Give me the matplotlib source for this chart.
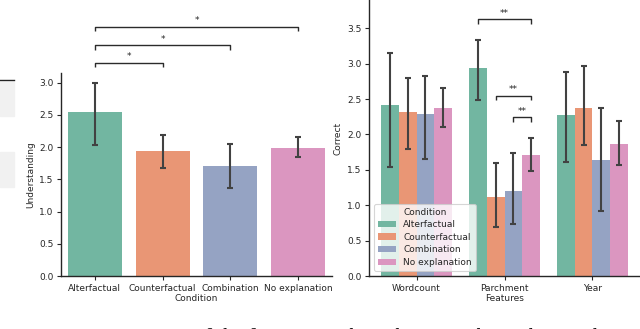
import matplotlib
matplotlib.use("Agg")
import matplotlib.pyplot as plt
import seaborn as sns
from matplotlib.patches import Rectangle, Patch
from matplotlib.lines import Line2D

# ---------------- data ----------------
conditions = ["Alterfactual", "Counterfactual", "Combination", "No explanation"]
understanding_mean = [2.54, 1.94, 1.71, 1.99]
understanding_low = [2.03, 1.67, 1.37, 1.84]
understanding_high = [2.99, 2.19, 2.05, 2.15]

features = ["Wordcount", "Parchment", "Year"]
alt_mean = [2.41, 2.94, 2.27]
alt_low = [1.54, 2.48, 1.61]
alt_high = [3.15, 3.34, 2.88]
cf_mean = [2.32, 1.11, 2.38]
cf_low = [1.80, 0.69, 1.85]
cf_high = [2.80, 1.59, 2.97]
comb_mean = [2.29, 1.20, 1.64]
comb_low = [1.65, 0.73, 0.92]
comb_high = [2.83, 1.74, 2.38]
none_mean = [2.38, 1.71, 1.87]
none_low = [2.11, 1.49, 1.57]
none_high = [2.66, 1.95, 2.19]

# significance brackets: (condition index a, condition index b, height, label)
left_sig = [(0, 1, 3.31, "*"), (0, 2, 3.58, "*"), (0, 3, 3.87, "*")]
# right: (feature index, hue a, hue b, height, label)
right_sig = [(1, 0, 3, 3.63, "**"), (1, 1, 3, 2.55, "**"), (1, 2, 3, 2.24, "**")]

caption = "Figure 2: Impact of the features and condition on the understanding"

# ---------------- style ----------------
plt.rcParams["font.family"] = ["DejaVu Sans"]
base = sns.color_palette("Set2", 4)
colors = [sns.desaturate(c, 0.75) for c in base]
err_color = "#424242"
spine_color = "#262626"
FS = 6.5

W, H = 640, 329
fig = plt.figure(figsize=(W / 100, H / 100), dpi=100)

def fbox(l, r, top, bottom):
    return [l / W, 1 - bottom / H, (r - l) / W, (bottom - top) / H]

def style_axes(ax):
    for s in ["top", "right"]:
        ax.spines[s].set_visible(False)
    for s in ["left", "bottom"]:
        ax.spines[s].set_color(spine_color)
        ax.spines[s].set_linewidth(1.0)
    ax.tick_params(labelsize=FS, length=3, width=0.8, color=spine_color,
                   labelcolor=spine_color, pad=2.5)

def bracket(ax, x1, x2, y, label, drop):
    ax.plot([x1, x1, x2, x2], [y - drop, y, y, y - drop], color="#2b2b2b",
            lw=1.0, clip_on=False, solid_capstyle="butt")
    ax.text((x1 + x2) / 2, y + 0.02, label, ha="center", va="bottom",
            fontsize=FS, color=spine_color, clip_on=False)

# ---------------- left chart ----------------
ax1 = fig.add_axes(fbox(61, 332, 73, 276))
xs = list(range(len(conditions)))
yerr = [[m - lo for m, lo in zip(understanding_mean, understanding_low)],
        [hi - m for m, hi in zip(understanding_mean, understanding_high)]]
ax1.bar(xs, understanding_mean, width=0.8, color=colors, edgecolor="none")
ax1.errorbar(xs, understanding_mean, yerr=yerr, fmt="none", ecolor=err_color,
             elinewidth=1.5, capsize=2, capthick=1.5)
ax1.set_xlim(-0.5, 3.5)
ax1.set_ylim(0, 3.15)
ax1.set_xticks(xs)
ax1.set_xticklabels(conditions)
ax1.set_yticks([0, 0.5, 1.0, 1.5, 2.0, 2.5, 3.0])
ax1.set_xlabel("Condition", fontsize=FS, color=spine_color, labelpad=1)
ax1.set_ylabel("Understanding", fontsize=FS, color=spine_color, labelpad=3)
style_axes(ax1)
for a, b, y, lab in left_sig:
    bracket(ax1, a, b, y, lab, 0.07)

# ---------------- right chart ----------------
ax2 = fig.add_axes(fbox(369, 640, 0, 276))
means = [alt_mean, cf_mean, comb_mean, none_mean]
lows = [alt_low, cf_low, comb_low, none_low]
highs = [alt_high, cf_high, comb_high, none_high]
bw = 0.2
offsets = [-0.3, -0.1, 0.1, 0.3]
fx = list(range(len(features)))
for i, cond in enumerate(conditions):
    px = [x + offsets[i] for x in fx]
    ax2.bar(px, means[i], width=bw, color=colors[i], edgecolor="none", label=cond)
    e = [[m - lo for m, lo in zip(means[i], lows[i])],
         [hi - m for m, hi in zip(means[i], highs[i])]]
    ax2.errorbar(px, means[i], yerr=e, fmt="none", ecolor=err_color,
                 elinewidth=1.5, capsize=2, capthick=1.5)
ax2.set_xlim(-0.54, 2.54)
ax2.set_ylim(0, 3.9)
ax2.set_xticks(fx)
ax2.set_xticklabels(features)
ax2.set_yticks([0, 0.5, 1.0, 1.5, 2.0, 2.5, 3.0, 3.5])
ax2.set_xlabel("Features", fontsize=FS, color=spine_color, labelpad=1)
ax2.set_ylabel("Correct", fontsize=FS, color=spine_color, labelpad=3)
style_axes(ax2)
for f, a, b, y, lab in right_sig:
    bracket(ax2, f + offsets[a], f + offsets[b], y, lab, 0.07)

handles = [Patch(facecolor=colors[i], edgecolor="none", label=c)
           for i, c in enumerate(conditions)]
leg = ax2.legend(handles=handles, title="Condition", loc="lower left",
                 fontsize=FS, title_fontsize=FS, frameon=True,
                 borderaxespad=0.6, handlelength=2.0, labelspacing=0.4)
leg.get_frame().set_edgecolor("#cccccc")
leg.get_frame().set_linewidth(0.8)
for t in leg.get_texts():
    t.set_color(spine_color)
leg.get_title().set_color(spine_color)

# ---------------- page fragments ----------------
fig.add_artist(Line2D([0, 14 / W], [1 - 80 / H, 1 - 80 / H], color="#222222",
                      lw=1.0, transform=fig.transFigure))
fig.add_artist(Rectangle((0, 1 - 116 / H), 14 / W, 34 / H, color="#f1f1f1",
                         transform=fig.transFigure, zorder=0))
fig.add_artist(Rectangle((0, 1 - 187 / H), 14 / W, 35 / H, color="#f1f1f1",
                         transform=fig.transFigure, zorder=0))
fig.text(48 / W, -0.035, caption, fontsize=12, family="DejaVu Serif",
         color="#111111", va="baseline", ha="left")

fig.savefig("out.png", dpi=100)
